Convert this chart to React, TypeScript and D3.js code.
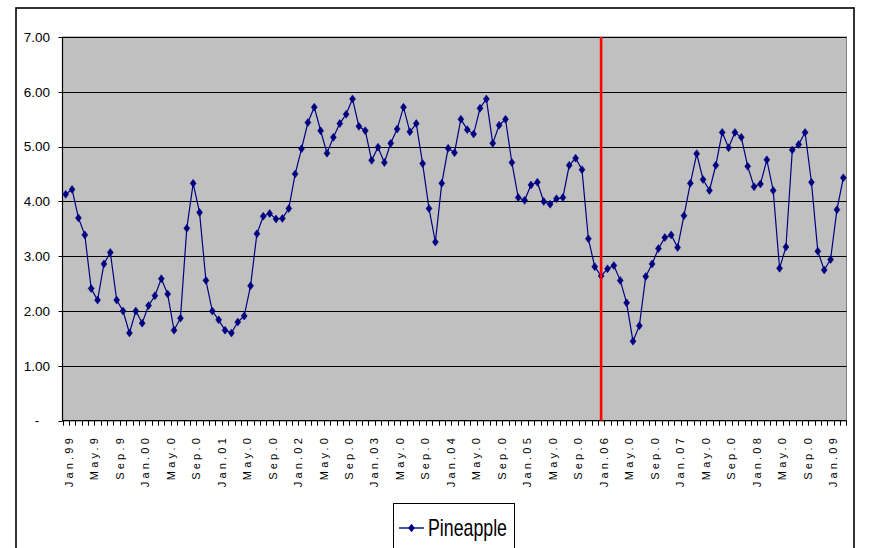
import React from "react";
import * as d3 from "d3";

const CATEGORIES: string[] = [
  "Jan.99","Feb.99","Mar.99","Apr.99","May.99","Jun.99","Jul.99","Aug.99","Sep.99","Oct.99","Nov.99","Dec.99",
  "Jan.00","Feb.00","Mar.00","Apr.00","May.00","Jun.00","Jul.00","Aug.00","Sep.00","Oct.00","Nov.00","Dec.00",
  "Jan.01","Feb.01","Mar.01","Apr.01","May.01","Jun.01","Jul.01","Aug.01","Sep.01","Oct.01","Nov.01","Dec.01",
  "Jan.02","Feb.02","Mar.02","Apr.02","May.02","Jun.02","Jul.02","Aug.02","Sep.02","Oct.02","Nov.02","Dec.02",
  "Jan.03","Feb.03","Mar.03","Apr.03","May.03","Jun.03","Jul.03","Aug.03","Sep.03","Oct.03","Nov.03","Dec.03",
  "Jan.04","Feb.04","Mar.04","Apr.04","May.04","Jun.04","Jul.04","Aug.04","Sep.04","Oct.04","Nov.04","Dec.04",
  "Jan.05","Feb.05","Mar.05","Apr.05","May.05","Jun.05","Jul.05","Aug.05","Sep.05","Oct.05","Nov.05","Dec.05",
  "Jan.06","Feb.06","Mar.06","Apr.06","May.06","Jun.06","Jul.06","Aug.06","Sep.06","Oct.06","Nov.06","Dec.06",
  "Jan.07","Feb.07","Mar.07","Apr.07","May.07","Jun.07","Jul.07","Aug.07","Sep.07","Oct.07","Nov.07","Dec.07",
  "Jan.08","Feb.08","Mar.08","Apr.08","May.08","Jun.08","Jul.08","Aug.08","Sep.08","Oct.08","Nov.08","Dec.08",
  "Jan.09","Feb.09","Mar.09",
];

const PINEAPPLE: number[] = [
  4.13, 4.22, 3.70, 3.39, 2.41, 2.20, 2.86, 3.07, 2.20, 2.00, 1.60, 2.00,
  1.78, 2.10, 2.28, 2.59, 2.31, 1.65, 1.87, 3.51, 4.33, 3.80, 2.56, 2.00,
  1.84, 1.65, 1.60, 1.80, 1.91, 2.46, 3.41, 3.73, 3.78, 3.68, 3.69, 3.87,
  4.50, 4.96, 5.44, 5.72, 5.29, 4.88, 5.17, 5.42, 5.59, 5.87, 5.37, 5.29,
  4.75, 4.99, 4.71, 5.06, 5.32, 5.72, 5.27, 5.42, 4.69, 3.87, 3.26, 4.33,
  4.97, 4.89, 5.50, 5.31, 5.23, 5.70, 5.87, 5.06, 5.39, 5.50, 4.71, 4.07,
  4.02, 4.30, 4.35, 4.00, 3.95, 4.05, 4.07, 4.66, 4.79, 4.58, 3.32, 2.81,
  2.64, 2.77, 2.83, 2.56, 2.15, 1.45, 1.73, 2.63, 2.86, 3.14, 3.34, 3.39,
  3.16, 3.74, 4.33, 4.87, 4.40, 4.20, 4.66, 5.26, 4.98, 5.26, 5.17, 4.64,
  4.27, 4.32, 4.76, 4.20, 2.78, 3.17, 4.94, 5.04, 5.26, 4.35, 3.09, 2.75,
  2.94, 3.85, 4.43,
];

// axis label shown every 4th category (Excel truncated text)
const X_TICK_CATEGORIES: string[] = [
  "Jan.99","May.99","Sep.99","Jan.00","May.00","Sep.00","Jan.01","May.01","Sep.01","Jan.02","May.02","Sep.02",
  "Jan.03","May.03","Sep.03","Jan.04","May.04","Sep.04","Jan.05","May.05","Sep.05","Jan.06","May.06","Sep.06",
  "Jan.07","May.07","Sep.07","Jan.08","May.08","Sep.08","Jan.09",
];
const X_TICK_LABELS: string[] = [
  "Jan.99","May.9","Sep.9","Jan.00","May.0","Sep.0","Jan.01","May.0","Sep.0","Jan.02","May.0","Sep.0",
  "Jan.03","May.0","Sep.0","Jan.04","May.0","Sep.0","Jan.05","May.0","Sep.0","Jan.06","May.0","Sep.0",
  "Jan.07","May.0","Sep.0","Jan.08","May.0","Sep.0","Jan.09",
];

const Y_TICKS: number[] = [0, 1, 2, 3, 4, 5, 6, 7];
const Y_TICK_LABELS: string[] = ["-", "1.00", "2.00", "3.00", "4.00", "5.00", "6.00", "7.00"];
const MARKER_CATEGORY = "Jan.06";
const SERIES_NAME = "Pineapple";

const W = 874;
const H = 548;
const PLOT = { left: 62.5, right: 846.5, top: 37, bottom: 420.7 };

export default function App() {
  const x = d3.scaleBand<string>().domain(CATEGORIES).range([PLOT.left, PLOT.right]).padding(0);
  const y = d3.scaleLinear().domain([0, 7]).range([PLOT.bottom, PLOT.top]);
  const bw = x.bandwidth();
  const cx = (c: string) => (x(c) as number) + bw / 2;

  const line = d3
    .line<number>()
    .x((_, i) => cx(CATEGORIES[i]))
    .y((d) => y(d));

  const diamond = "M0,-4L3,0L0,4L-3,0Z";
  const narrow = "'Liberation Sans Narrow', 'Arial Narrow', 'Liberation Sans', Arial, sans-serif";
  const sans = "'Liberation Sans', Arial, sans-serif";

  return (
    <svg
      width={W}
      height={H}
      style={{ position: "absolute", left: 0, top: 0, background: "#fff" }}
    >
      {/* outer chart border */}
      <rect x={16} y={8} width={838} height={560} fill="none" stroke="#000" strokeWidth={1.6} />

      {/* plot area */}
      <rect
        x={PLOT.left}
        y={PLOT.top}
        width={PLOT.right - PLOT.left}
        height={PLOT.bottom - PLOT.top}
        fill="#C0C0C0"
        stroke="#808080"
        strokeWidth={1}
      />

      {/* gridlines */}
      {Y_TICKS.filter((t) => t > 0).map((t) => (
        <line
          key={"g" + t}
          x1={PLOT.left}
          x2={PLOT.right}
          y1={Math.round(y(t)) + 0.5}
          y2={Math.round(y(t)) + 0.5}
          stroke="#000"
          strokeWidth={1}
        />
      ))}

      {/* y axis */}
      <line x1={PLOT.left} x2={PLOT.left} y1={PLOT.top} y2={PLOT.bottom} stroke="#000" strokeWidth={1.2} />
      {Y_TICKS.map((t, i) => (
        <g key={"yt" + t}>
          <line
            x1={PLOT.left - 4}
            x2={PLOT.left}
            y1={Math.round(y(t)) + 0.5}
            y2={Math.round(y(t)) + 0.5}
            stroke="#000"
          />
          <text
            x={t === 0 ? 37 : 50}
            y={y(t)}
            dy="0.35em"
            textAnchor={t === 0 ? "middle" : "end"}
            fontFamily={narrow}
            fontSize={13.5}
            fill="#000"
          >
            {Y_TICK_LABELS[i]}
          </text>
        </g>
      ))}

      {/* x axis */}
      <line x1={PLOT.left} x2={PLOT.right} y1={PLOT.bottom} y2={PLOT.bottom} stroke="#000" strokeWidth={1.2} />
      {CATEGORIES.map((c) => (
        <line
          key={"xt" + c}
          x1={Math.round(x(c) as number) + 0.5}
          x2={Math.round(x(c) as number) + 0.5}
          y1={PLOT.bottom}
          y2={PLOT.bottom + 5}
          stroke="#000"
          strokeWidth={1}
        />
      ))}
      <line
        x1={PLOT.right}
        x2={PLOT.right}
        y1={PLOT.bottom}
        y2={PLOT.bottom + 5}
        stroke="#000"
      />
      {X_TICK_CATEGORIES.map((c, i) => (
        <text
          key={"xl" + c}
          transform={`translate(${cx(c) + 3},${435}) rotate(-90)`}
          textAnchor="end"
          dy="0.35em"
          fontFamily={sans}
          fontSize={11}
          letterSpacing={3.2}
          fill="#000"
        >
          {X_TICK_LABELS[i]}
        </text>
      ))}

      {/* series */}
      <path d={line(PINEAPPLE) || ""} fill="none" stroke="#000080" strokeWidth={1.2} />
      {PINEAPPLE.map((v, i) => (
        <path
          key={"m" + i}
          d={diamond}
          transform={`translate(${cx(CATEGORIES[i])},${y(v)})`}
          fill="#000080"
          stroke="#000080"
          strokeWidth={0.5}
        />
      ))}

      {/* red vertical marker */}
      <line
        x1={cx(MARKER_CATEGORY)}
        x2={cx(MARKER_CATEGORY)}
        y1={PLOT.top}
        y2={PLOT.bottom}
        stroke="#FF0000"
        strokeWidth={2.6}
      />

      {/* legend */}
      <rect x={393.5} y={503.5} width={121} height={60} fill="#fff" stroke="#000" strokeWidth={1} />
      <line x1={399} x2={424} y1={528} y2={528} stroke="#000080" strokeWidth={1.4} />
      <path d={diamond} transform="translate(411.5,528)" fill="#000080" stroke="#000080" strokeWidth={0.5} />
      <text
        x={428}
        y={535.5}
        fontFamily={narrow}
        fontSize={24}
        textLength={79}
        lengthAdjust="spacingAndGlyphs"
        fill="#000"
      >
        {SERIES_NAME}
      </text>
    </svg>
  );
}
